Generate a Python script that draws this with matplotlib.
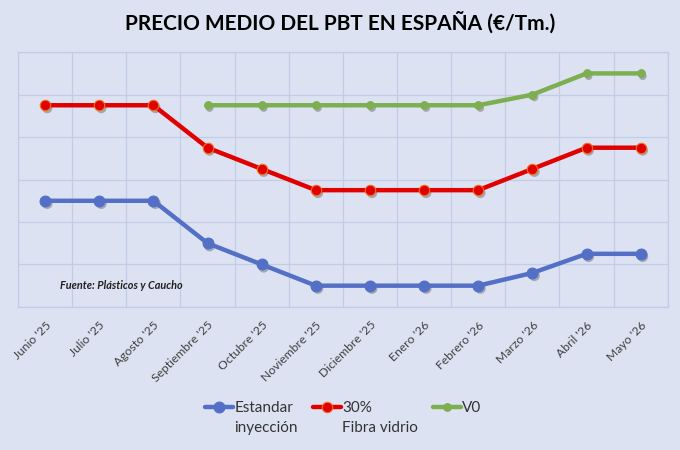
#!/usr/bin/env python3

import matplotlib
matplotlib.use("Agg")
import matplotlib.pyplot as plt
import matplotlib.patheffects as pe

# grid units (the chart shows no y values)
meses = ["Junio '25", "Julio '25", "Agosto '25", "Septiembre '25", "Octubre '25",
         "Noviembre '25", "Diciembre '25", "Enero '26", "Febrero '26",
         "Marzo '26", "Abril '26", "Mayo '26"]
estandar = [2.5, 2.5, 2.5, 1.5, 1.0, 0.5, 0.5, 0.5, 0.5, 0.8, 1.25, 1.25]
fibra = [4.75, 4.75, 4.75, 3.75, 3.25, 2.75, 2.75, 2.75, 2.75, 3.25, 3.75, 3.75]
v0 = [None, None, None, 4.75, 4.75, 4.75, 4.75, 4.75, 4.75, 5.0, 5.5, 5.5]

BG = "#dce2f2"
GRID = "#c3cce6"

plt.rcParams["font.family"] = ["Lato", "DejaVu Sans"]

fig = plt.figure(figsize=(6.8, 4.5), dpi=100, facecolor=BG)
ax = fig.add_axes([0.0265, 0.318, 0.9555, 0.566], facecolor=BG)

x = list(range(len(meses)))
x_v0 = [i for i, v in zip(x, v0) if v is not None]
y_v0 = [v for v in v0 if v is not None]

series = [
    (x, estandar, "#5470c6", "#5470c6", 7.8, "Estandar\ninyección"),
    (x, fibra, "#e00000", "#f07020", 7.5, "30%\nFibra vidrio"),
    (x_v0, y_v0, "#7dae4f", "#7dae4f", 5.5, "V0\n "),
]

shadow = [pe.SimplePatchShadow(offset=(1.5, -2), shadow_rgbFace="#606060", alpha=0.45)]

for xs, ys, col, edge, ms, lab in series:
    ax.plot(xs, ys, color=col, lw=3.2, solid_capstyle="round", zorder=3,
            label=lab, marker="o", ms=ms, mfc=col, mec=edge, mew=0.8)
    sh, = ax.plot(xs, ys, ls="none", marker="o", ms=ms, color="none", zorder=2.5,
                  mfc="#808080", mec="none")
    sh.set_path_effects(shadow)

ax.set_xlim(-0.5, len(meses) - 0.5)
ax.set_ylim(0, 6)
ax.set_yticks(range(0, 7))
ax.set_yticklabels([])
ax.set_xticks([i - 0.5 for i in range(len(meses) + 1)], minor=False)
ax.set_xticklabels([])
ax.set_xticks(x, minor=True)
ax.set_xticklabels(meses, minor=True, rotation=45, ha="right",
                   rotation_mode="anchor", fontsize=8.7, color="#404040")
ax.tick_params(which="both", length=0)
ax.tick_params(axis="x", which="minor", pad=9)
ax.grid(True, which="major", color=GRID, lw=0.9)
for s in ax.spines.values():
    s.set_color(GRID)
    s.set_linewidth(0.9)

ax.text(0.065, 0.07, "Fuente: Plásticos y Caucho", transform=ax.transAxes,
        fontsize=7.8, fontweight="bold", fontstyle="italic", color="#202020")

fig.text(0.5, 0.951, "PRECIO MEDIO DEL PBT EN ESPAÑA (€/Tm.)", ha="center",
         va="center", fontsize=15, fontweight="bold", color="#000000")

leg = fig.legend(loc="upper center", bbox_to_anchor=(0.505, 0.14), ncol=3,
                 frameon=False, fontsize=11, handlelength=1.8, handletextpad=0.1,
                 columnspacing=1.0, labelcolor="#333333")
for txt in leg.get_texts():
    txt.set_linespacing(1.6)

# put each handle level with the first line of its label
for h, txt in zip(leg.legend_handles, leg.get_texts()):
    n = txt.get_text().count("\n")
    if n:
        h.set_ydata([y + 8.0 * n for y in h.get_ydata()])

fig.savefig("out.png", dpi=100, facecolor=BG)
